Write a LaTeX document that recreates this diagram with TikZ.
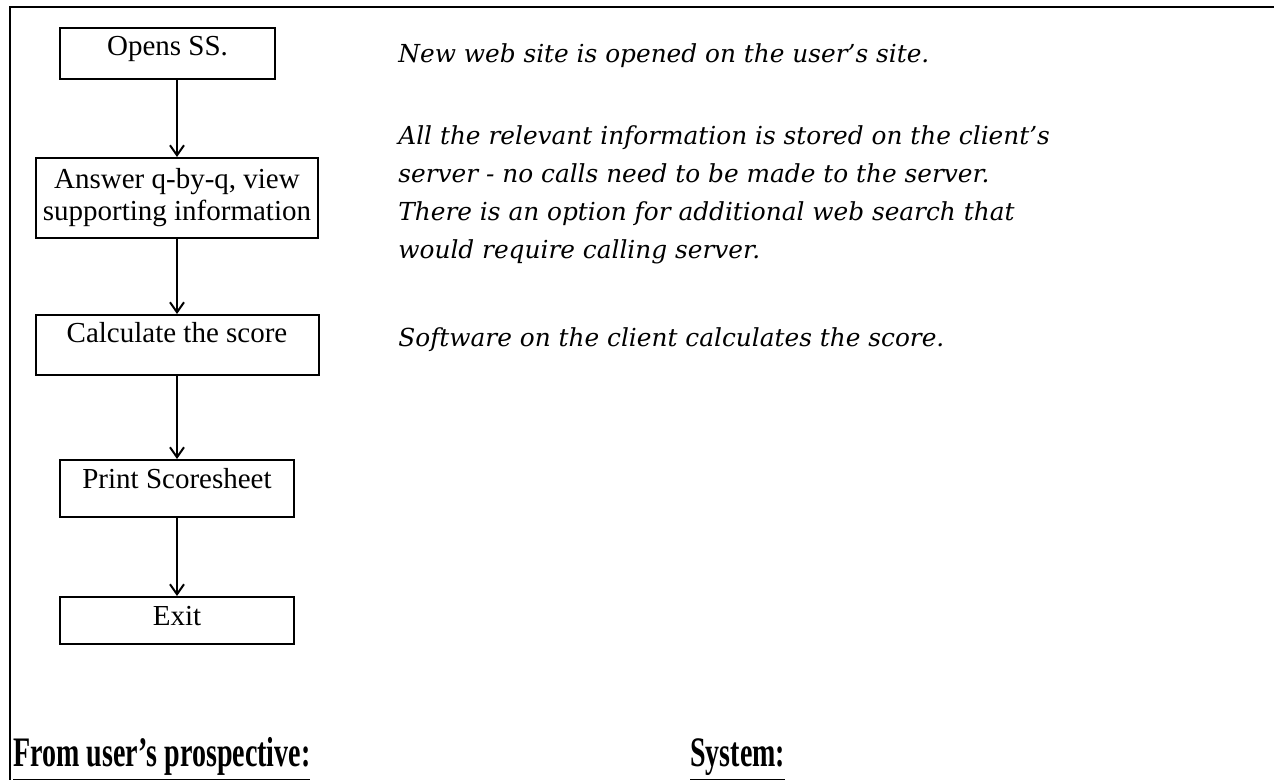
\documentclass[tikz,border=0pt]{standalone}
\usepackage{fontspec}
\setmainfont{Liberation Serif}
\newfontfamily\notefont{DejaVu Serif}
\usepackage{tikz}
\usetikzlibrary{arrows.meta, positioning}

\begin{document}
\begin{tikzpicture}[
  x=0.5pt, y=-0.5pt,
  node distance=39pt,
  stepbox/.style={rectangle, draw, line width=1pt, align=center,
              font=\fontsize{14.5pt}{16pt}\selectfont, inner xsep=3pt, inner ysep=3pt},
  onerow/.style={text height=11pt, text depth=#1},
  note/.style={anchor=base west, align=left, inner sep=0pt,
              font=\notefont\fontsize{12.4pt}{19pt}\selectfont\itshape},
  heading/.style={anchor=base west, inner sep=0pt, yscale=1.5,
              font=\fontsize{14pt}{16pt}\selectfont\bfseries},
  ar/.style={-{Straight Barb[length=5pt, width=7pt]}, line width=1pt}]
\useasboundingbox (0,0) rectangle (1274,780);
% frame of the page
\draw[line width=1pt] (10,780) -- (10,7) -- (1274,7);
% user steps
\node[stepbox, anchor=north, minimum width=141pt, minimum height=40pt] (answer) at (177,157)
  {Answer q-by-q, view\\supporting information};
\node[stepbox, onerow=8.5pt, minimum width=107.5pt, above=38.5pt of answer, xshift=-4.75pt] (opens) {Opens SS.};
\node[stepbox, onerow=13pt, minimum width=141.5pt, below=37.5pt of answer] (calc) {Calculate the score};
\node[stepbox, onerow=11.5pt, minimum width=117pt, below=41.5pt of calc] (print) {Print Scoresheet};
\node[stepbox, onerow=6.5pt, minimum width=117pt, below=39pt of print] (quit) {Exit};
\draw[ar] (answer.north |- opens.south) -- (answer.north);
\draw[ar] (answer) -- (calc);
\draw[ar] (calc) -- (print);
\draw[ar] (print) -- (quit);
% system side
\node[note] (n1) at (398,63) {New web site is opened on the user’s site.};
\node[note] (n2) at (398,259) {All the relevant information is stored on the client’s\\
  server - no calls need to be made to the server.\\
  There is an option for additional web search that\\
  would require calling server.};
\node[note] (n3) at (398,347) {Software on the client calculates the score.};
% headings
\node[heading] (huser) at (13,766) {\underline{From user’s prospective:}};
\node[heading] (hsys) at (690,766) {\underline{System:}};
\end{tikzpicture}
\end{document}
